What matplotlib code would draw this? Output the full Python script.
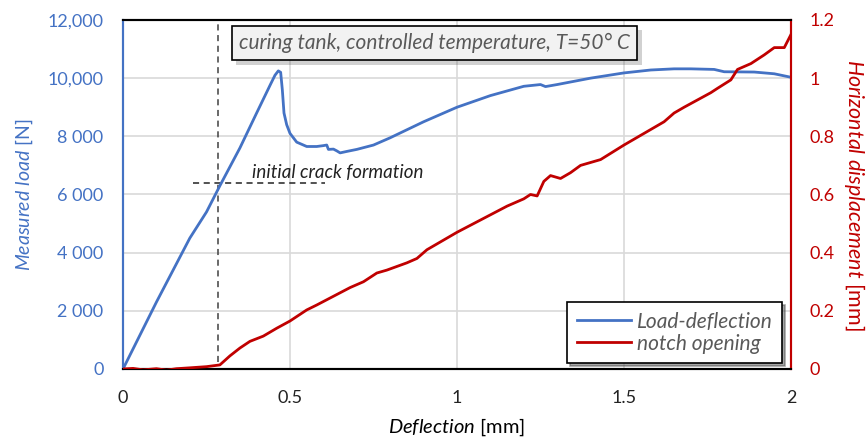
# coding:utf-8

import numpy as np
import matplotlib.pyplot as plt
import matplotlib.patheffects as pe

plt.rcParams['font.family'] = ['Lato', 'DejaVu Sans']
plt.rcParams['mathtext.fontset'] = 'custom'
plt.rcParams['mathtext.rm'] = 'Lato'
plt.rcParams['mathtext.it'] = 'Lato:italic'

# load-deflection curve [mm, N]
defl_load = [0, 0.05, 0.10, 0.15, 0.20, 0.25, 0.29, 0.35, 0.40, 0.44, 0.455, 0.465, 0.472,
             0.477, 0.482, 0.49, 0.50, 0.52, 0.55, 0.58, 0.60, 0.61, 0.615, 0.63, 0.64,
             0.65, 0.67, 0.70, 0.75, 0.80, 0.90, 1.00, 1.10, 1.20, 1.25, 1.265, 1.30,
             1.40, 1.50, 1.58, 1.65, 1.70, 1.77, 1.80, 1.89, 1.95, 2.00]
load = [0, 1150, 2300, 3400, 4500, 5400, 6300, 7600, 8800, 9750, 10100, 10250, 10200,
        9600, 8800, 8400, 8100, 7800, 7650, 7650, 7680, 7700, 7550, 7560, 7500,
        7430, 7480, 7550, 7700, 7950, 8500, 9000, 9400, 9720, 9780, 9710, 9780,
        10000, 10180, 10280, 10320, 10320, 10300, 10220, 10210, 10150, 10030]

# notch opening [mm, mm]
defl_notch = [0, 0.03, 0.06, 0.10, 0.13, 0.16, 0.20, 0.25, 0.29, 0.32, 0.35, 0.38, 0.42,
              0.46, 0.50, 0.55, 0.58, 0.63, 0.68, 0.72, 0.76, 0.79, 0.85, 0.88, 0.91,
              1.00, 1.05, 1.10, 1.15, 1.20, 1.22, 1.24, 1.26, 1.28, 1.31, 1.34, 1.37,
              1.43, 1.50, 1.56, 1.62, 1.65, 1.68, 1.72, 1.76, 1.78, 1.82, 1.84, 1.88,
              1.92, 1.95, 1.98, 2.00]
notch = [0, 0.002, -0.003, 0.001, -0.004, 0.001, 0.004, 0.008, 0.014, 0.045, 0.072, 0.095, 0.113,
         0.14, 0.165, 0.203, 0.22, 0.25, 0.28, 0.30, 0.33, 0.34, 0.365, 0.38, 0.41,
         0.47, 0.50, 0.53, 0.56, 0.585, 0.60, 0.595, 0.645, 0.665, 0.655, 0.675, 0.70,
         0.72, 0.77, 0.81, 0.85, 0.88, 0.90, 0.925, 0.95, 0.965, 0.994, 1.03, 1.05,
         1.08, 1.105, 1.105, 1.15]

x_ticks = [0, 0.5, 1, 1.5, 2]
x_labels = ['0', '0.5', '1', '1.5', '2']
load_ticks = [0, 2000, 4000, 6000, 8000, 10000, 12000]
load_labels = ['0', '2 000', '4 000', '6 000', '8 000', '10,000', '12,000']
disp_ticks = [0, 0.2, 0.4, 0.6, 0.8, 1.0, 1.2]
disp_labels = ['0', '0.2', '0.4', '0.6', '0.8', '1', '1.2']

crack_x = 0.285
crack_load = 6400

blue = '#4472C4'
red = '#C00000'
grey = '#595959'

fig = plt.figure(figsize=(8.67, 4.41), dpi=100)
ax = fig.add_axes([0.1419, 0.1633, 0.7704, 0.7914])
ax2 = ax.twinx()

l1, = ax.plot(defl_load, load, color=blue, lw=2, label='Load-deflection', zorder=3)
l2, = ax2.plot(defl_notch, notch, color=red, lw=2, label='notch opening', zorder=3)

ax.set_xlim(0, 2)
ax.set_ylim(0, 12000)
ax2.set_ylim(0, 1.2)

ax.set_xticks(x_ticks)
ax.set_xticklabels(x_labels, fontsize=13, color='#222222')
ax.set_yticks(load_ticks)
ax.set_yticklabels(load_labels, fontsize=13, color=blue)
ax2.set_yticks(disp_ticks)
ax2.set_yticklabels(disp_labels, fontsize=13, color=red)
ax.tick_params(axis='x', length=0, pad=15)
ax.tick_params(axis='y', length=0, pad=14)
ax2.tick_params(length=0, pad=13)

ax.grid(True, color='#d9d9d9', lw=1.2)
ax.set_axisbelow(True)

for a in (ax, ax2):
    a.spines['top'].set_color('black')
    a.spines['bottom'].set_color('black')
    a.spines['left'].set_color(blue)
    a.spines['right'].set_color(red)
    for s in a.spines.values():
        s.set_linewidth(1.5)

ax.set_xlabel(r'$\it{Deflection}$ [mm]', fontsize=14.5, labelpad=8)
ax.set_ylabel(r'$\it{Measured\ load}$ [N]', fontsize=14, color=blue, labelpad=9)
ax2.set_ylabel(r'$\it{Horizontal\ displacement}$ [mm]', fontsize=15.5, color=red,
               rotation=270, labelpad=24)

# initial crack markers
ax.axvline(crack_x, ymin=0.02, ymax=1, color='#404040', lw=1.1, ls=(0, (4, 3)), zorder=2)
ax.plot([0.21, 0.605], [crack_load, crack_load], color='#222222', lw=1.1, ls=(0, (4, 3)), zorder=2)
ax.text(0.386, crack_load + 80, 'initial crack formation', fontsize=13.5, style='italic',
        color='#222222', va='bottom')

t = ax2.text(0.933, 0.934, 'curing tank, controlled temperature, T=50° C', transform=ax2.get_xaxis_transform(),
             fontsize=15, style='italic', color=grey, ha='center', va='center', zorder=5,
             bbox=dict(boxstyle='square,pad=0.35', fc='#f2f2f2', ec='black', lw=1.2))
t.get_bbox_patch().set_path_effects([pe.SimplePatchShadow(offset=(3, -3), alpha=0.25), pe.Normal()])

leg = ax2.legend([l1, l2], ['Load-deflection', 'notch opening'], loc='lower right',
                 bbox_to_anchor=(0.987, 0.017), borderaxespad=0, fancybox=False, shadow=True,
                 framealpha=1, edgecolor='black', prop={'size': 15, 'style': 'italic'},
                 handlelength=2.6, borderpad=0.45, labelspacing=0.1, handletextpad=0.3)
leg.get_frame().set_linewidth(1.2)
for txt in leg.get_texts():
    txt.set_color(grey)

fig.savefig('out.png', dpi=100)
